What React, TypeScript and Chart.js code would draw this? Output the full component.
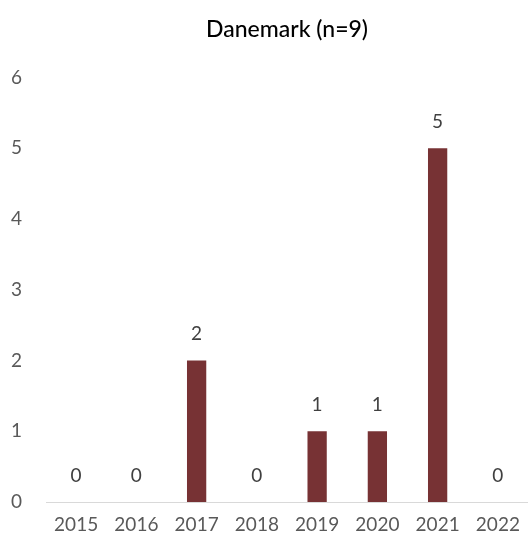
import React, { useEffect, useRef } from "react";
import { Chart, registerables } from "chart.js";

Chart.register(...registerables);

const title = "Danemark (n=9)";
const years = ["2015", "2016", "2017", "2018", "2019", "2020", "2021", "2022"];
const counts = [0, 0, 2, 0, 1, 1, 5, 0];
const yTicks = [0, 1, 2, 3, 4, 5, 6];

const valueLabels = {
  id: "valueLabels",
  afterDatasetsDraw(chart: any) {
    const ctx = chart.ctx;
    const meta = chart.getDatasetMeta(0);
    ctx.save();
    ctx.fillStyle = "#404040";
    ctx.font = "19px Lato";
    ctx.textAlign = "center";
    ctx.textBaseline = "bottom";
    meta.data.forEach((bar: any, i: number) => {
      ctx.fillText(String(counts[i]), bar.x, bar.y - 17);
    });
    ctx.restore();
  },
};

export default function App() {
  const ref = useRef<HTMLCanvasElement | null>(null);
  useEffect(() => {
    document.body.style.margin = "0";
    const chart = new Chart(ref.current!, {
      type: "bar",
      data: {
        labels: years,
        datasets: [
          {
            data: counts,
            backgroundColor: "#773234",
            barPercentage: 0.64,
            categoryPercentage: 0.5,
          },
        ],
      },
      options: {
        animation: false,
        responsive: false,
        layout: { padding: 0 },
        plugins: {
          legend: { display: false },
          tooltip: { enabled: false },
          title: {
            display: true,
            text: title,
            fullSize: false,
            color: "#000000",
            font: { family: "Lato", size: 23, weight: "500" },
            padding: { top: 16, bottom: 34 },
          },
        },
        scales: {
          x: {
            grid: { display: false, drawTicks: false },
            border: { display: true, color: "#d9d9d9", width: 1 },
            ticks: {
              color: "#595959",
              font: { family: "Lato", size: 19 },
              padding: 11,
              maxRotation: 0,
            },
            afterFit(scale: any) {
              scale.height = 42;
              scale.paddingLeft = 0;
              scale.paddingRight = 0;
            },
          },
          y: {
            min: 0,
            max: 6,
            grid: { display: false, drawTicks: false },
            border: { display: false },
            afterBuildTicks(scale: any) {
              scale.ticks = yTicks.map((v) => ({ value: v }));
            },
            ticks: {
              color: "#595959",
              font: { family: "Lato", size: 19 },
              padding: 24,
            },
            afterFit(scale: any) {
              scale.width = 46;
            },
          },
        },
      },
      plugins: [valueLabels],
    });
    return () => chart.destroy();
  }, []);
  return (
    <div style={{ width: 528, height: 544 }}>
      <canvas ref={ref} width={528} height={544} />
    </div>
  );
}
